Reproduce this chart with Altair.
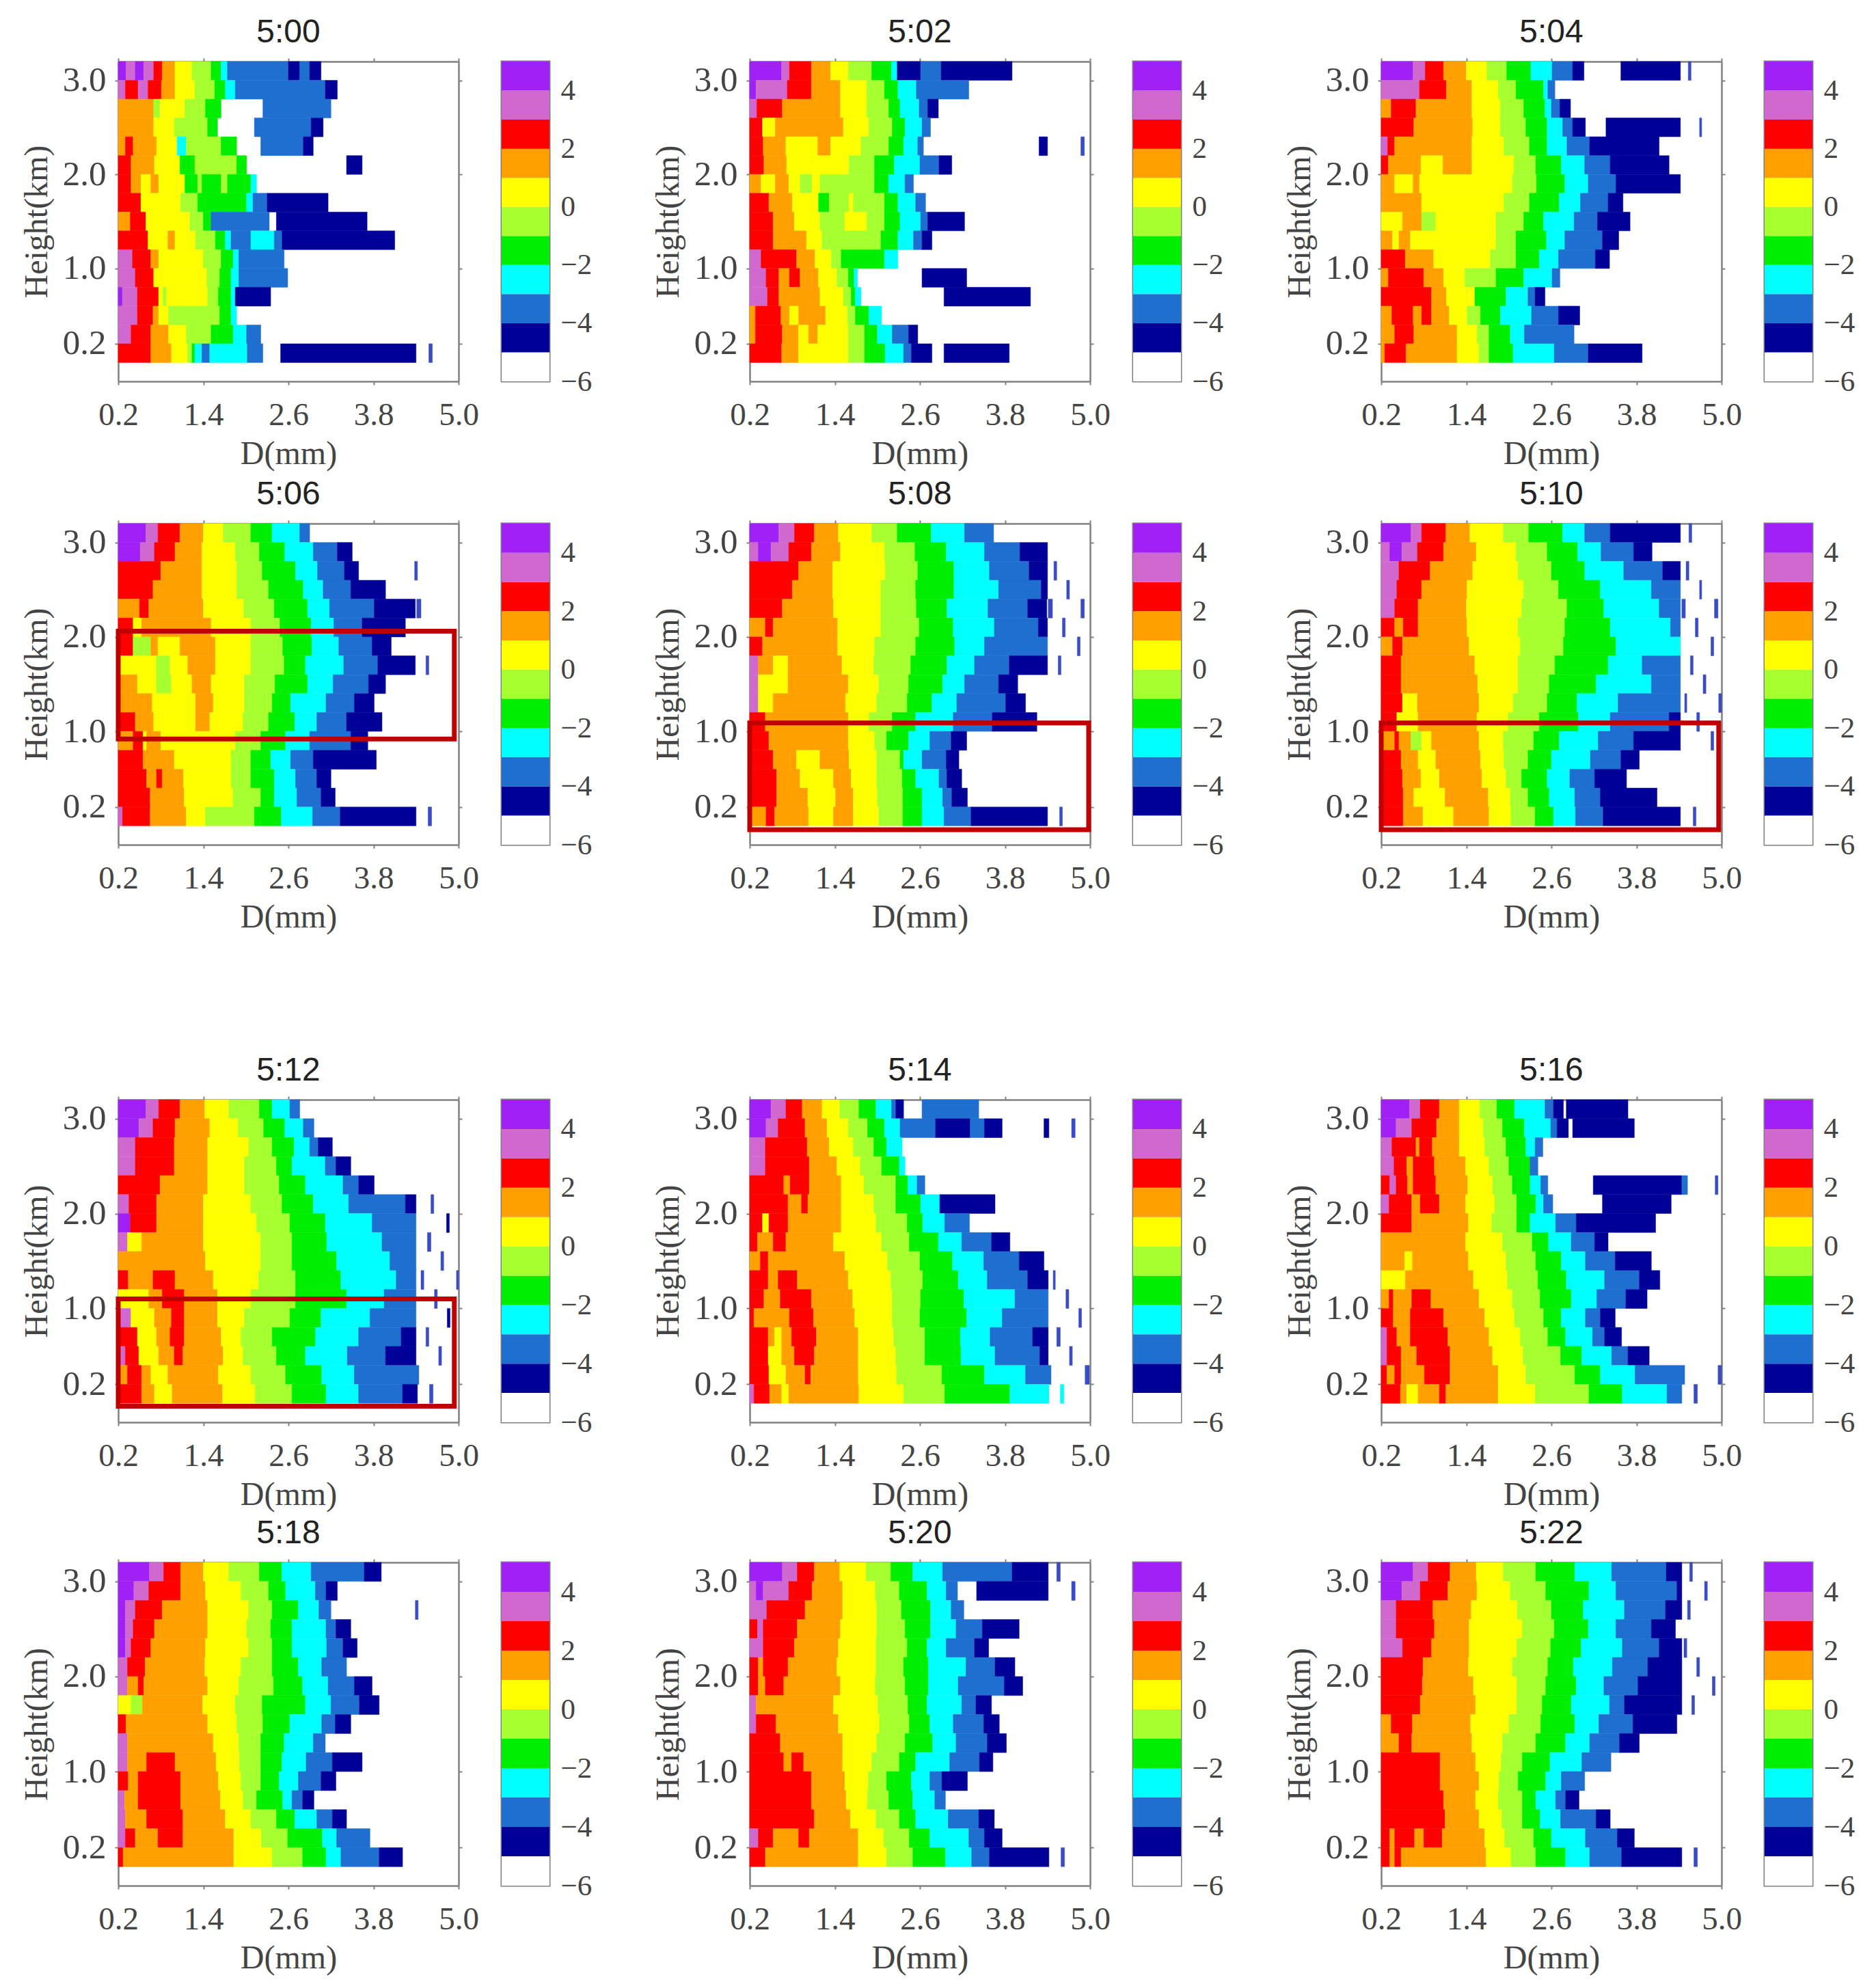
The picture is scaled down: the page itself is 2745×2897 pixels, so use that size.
import altair as alt
import pandas as pd

# Each row (top = 3.0-3.2 km, down to 0.0-0.2 km): class letter + upper edge of D in 0.01 mm; starts at 0.2 mm.
P500 = ["V31 P44 V56 P70 R82 O100 Y124 L151 G165 C174 B260 N276 B290 N306",
"P30 R48 P62 R81 O100 Y128 L156 G171 C185 B312 N329",
"O70 L79 Y114 L143 G165 W224 B320",
"O70 Y99 L146 G160 W212 B292 N309",
"O30 R41 O74 Y103 C116 L165 G187 W221 B281 N295",
"R38 O71 Y107 G128 L187 G201 W342 N364",
"R38 O52 Y66 O77 Y114 G132 L138 G165 L174 G207 C215",
"R52 Y108 L132 G201 C210 B230 N316",
"O37 R59 Y121 L140 G151 B233 W243 N371",
"R62 Y90 O100 Y129 L157 G171 C179 B207 C240 B251 N410",
"P40 R66 O77 Y140 L165 G182 C190 B254",
"P44 R70 Y145 L163 G179 C190 B259",
"V26 P47 R77 Y83 L88 Y146 L161 G179 C185 N235",
"P47 R69 O77 Y91 L163 G179 C187",
"P38 R66 O91 Y116 L151 G182 C201 B221",
"R66 O95 Y118 L124 G128 C138 B149 C202 B224 W249 N440 W458 B463"]
P502 = ["V65 P76 R107 O134 Y159 L192 G220 C228 N261 B290 N390",
"V29 P73 R107 O148 Y185 L210 G229 C255 B329",
"P30 R66 O148 Y185 L216 G232 C259 B271 N286",
"R38 Y56 O152 Y188 L221 G239 C263 B275",
"R39 O71 Y116 O134 Y177 L216 G237 C257 B265 W428 N440 W487 B492",
"R40 O72 Y160 L196 G224 C260 B287 N305",
"O36 Y56 O75 Y91 L108 Y119 L196 G216 C239 B251",
"R47 O80 Y117 G132 L160 Y166 L210 G229 C254 B268",
"R53 O83 Y119 L154 Y185 L210 G232 C261 B271 N323",
"R53 O100 Y122 L205 G229 C251 B263 N277",
"P36 R86 O112 Y135 L149 G210 C229",
"P43 R61 O76 R91 O117 Y143 L159 G167 C172 W263 N326",
"P45 R61 O119 Y152 L163 G169 C177 W294 N416",
"O28 R64 O76 Y89 O127 Y158 L169 G188 C206",
"O28 R66 O89 Y103 O116 Y159 L182 G200 C221 B244 N257",
"R65 O89 Y159 L182 G211 C237 B248 N277 W294 N386"]
P504 = ["V65 P82 R108 O140 Y169 L197 G231 C261 B290 N306 W358 N442 W453 B457",
"P74 R112 O148 Y185 L210 G249 C255 B265",
"O34 R69 O148 Y188 L221 G251 C260 B272 N287",
"R66 O149 Y188 L224 G254 C276 B290 N308 W337 N442 W469 B472",
"P29 R39 O148 Y193 L229 G254 C282 B314 N412",
"R30 O76 Y107 O148 Y207 L238 G274 C307 B343 N426",
"O39 Y65 O74 Y205 L239 G279 C312 B351 N442",
"O77 Y193 L229 G271 C301 B340 N361",
"Y50 O77 L97 Y182 L221 G249 C292 B325 N371",
"O36 Y45 O61 Y182 L210 G253 C279 B332 N355",
"R54 O94 Y174 L210 G243 C270 B322 N342",
"O30 R80 O108 Y138 L182 G221 C261 B272",
"R91 O112 Y152 G196 C227 B237 N251",
"O35 R65 O77 R91 O116 Y141 L160 G188 C232 B270 N300",
"O39 R66 O127 Y155 L172 G202 C222 B292",
"O25 R55 O127 Y158 L172 G206 C264 B312 N388"]
P506 = ["V59 P76 R107 O140 Y168 L207 G237 C276 B290",
"V51 P71 R100 O138 Y185 L219 G255 C295 B329 N350",
"R80 O138 Y187 L223 G270 C301 B339 N359 W438 B442",
"R69 O138 Y187 L232 G281 C309 B348 N397",
"O50 R63 O140 Y197 L240 G287 C318 B381 N439 W441 B447",
"R41 Y53 O151 Y207 L248 G292 C324 B364 N425",
"R41 L66 O76 Y107 O157 Y207 L252 G293 C331 B378 N405",
"Y74 L93 Y118 O157 Y207 L254 G284 C338 B386 N439 W454 B458",
"O47 Y74 L95 Y124 O151 Y198 L241 G287 C323 B373 N397",
"O68 Y129 O154 Y198 L237 G263 C313 B353 N381",
"R44 O70 Y129 O149 Y196 L232 G269 C300 B342 N392",
"O41 R55 Y60 O80 Y185 L221 G256 C290 B348 N372",
"R55 O99 Y179 L207 G235 C263 B295 N384",
"R60 O74 R82 O112 Y179 L207 G240 C270 B300 N320",
"R65 O113 Y182 L221 G240 C272 B306 N326",
"P26 R65 O116 Y143 L212 G250 C294 B333 N440 W457 B462"]
P508 = ["V61 P83 R111 O145 Y192 L228 G276 C323 B364",
"P32 V50 P75 R107 O148 Y210 L253 G297 C351 B401 N440",
"R89 O137 Y211 L257 G308 C358 B414 N440 W449 B453",
"R80 O137 Y205 L254 G308 C371 B431 N440 W467 B471",
"R66 O138 Y205 L255 G298 C356 B412 N439 W441 B447 W487 B492",
"O42 R53 O144 Y205 L259 G307 C365 B427 N440 W461 B465",
"R38 O144 Y196 L254 G309 C351 B440 W482 B486",
"P32 O53 Y74 O150 Y195 L247 G298 C337 B386 N440 W455 B459",
"P32 Y74 O159 Y202 L244 G292 C323 B371 N398",
"P32 Y53 O155 Y199 L242 G277 C312 B381 N409",
"R42 O159 Y188 L221 G254 C307 B362 N425",
"R47 O159 Y196 L213 G244 C274 B304 N326",
"R53 O86 Y119 O160 Y199 L232 G237 C263 B297 N315",
"R58 O91 Y138 O163 Y199 L235 G254 C287 B298 N319",
"R58 O102 Y141 O166 Y200 L236 G263 C292 B305 N327",
"O43 R55 O103 Y138 O166 Y202 L236 G263 C294 B332 N440 W457 B461"]
P510 = ["V62 P77 R111 O145 Y192 L228 G276 C307 B343 N442 W454 B458",
"P32 V49 P71 R108 O154 Y210 L254 G297 C330 B376 N402",
"P45 R89 O149 Y213 L260 G307 C362 B417 N442 W450 B454",
"P42 R77 O141 Y221 L270 G329 C401 B442 W469 B472",
"P39 R72 O140 Y218 L282 G334 C412 B442 W444 B449 W490 B495",
"R39 O51 R72 O141 Y213 L279 G343 C428 B442 W463 B467",
"O36 R50 O144 Y216 L277 G351 C442 W485 B489",
"R48 O152 Y213 L265 G340 C388 B442 W456 B460",
"R48 O156 Y213 L257 G323 C401 B442 W474 B478",
"R50 Y71 O158 Y206 L254 G296 C354 B442 W448 B451 W496 B500",
"R42 Y72 O155 Y199 L243 G298 C343 B426 N442 W465 B469",
"O39 R45 O62 L77 Y91 O158 Y192 L235 G271 C326 B376 N442 W485 B489",
"R48 O72 Y97 O160 Y193 L227 G260 C315 B358 N384",
"R50 O76 Y102 O162 Y196 L218 G254 C286 B321 N366",
"R51 O66 Y110 O171 Y202 L227 G257 C293 B329 N409",
"R51 O79 Y122 O172 Y203 L237 G263 C294 B333 N442 W460 B464"]
P512 = ["V59 P77 R107 O142 Y176 L219 G237 C262 B276",
"V49 P69 R100 O149 Y189 L225 G255 C281 B296",
"P44 R99 O146 Y204 L237 G268 C290 B302 N322",
"P44 R99 O146 Y198 L243 G265 C312 B327 N348",
"R79 O146 Y198 L247 G284 C337 B359 N381",
"P35 R74 O140 Y207 L251 G295 C345 B425 N440 W461 B465",
"V37 R74 O140 Y215 L262 G312 C378 B440 W483 N487",
"P33 Y53 O140 Y221 L265 G314 C392 B440 W456 B461",
"O143 Y221 L265 G328 C403 B440 W475 B479",
"R34 O69 R100 O154 Y218 L270 G334 C412 B440 W447 B451 W497 B500",
"Y63 O82 R113 O160 Y207 L270 G342 C395 B440 W466 B470",
"P38 Y71 O95 R113 O160 Y198 L262 G306 C375 B440 W484 N488",
"R47 Y74 O93 R113 O165 Y193 L237 G298 C359 B419 N440 W454 B458",
"P30 R49 Y77 O99 R111 O168 Y196 L243 G284 C343 B397 N440 W472 B476",
"O33 R53 O66 Y90 O161 Y207 L256 G307 C353 B444",
"R53 O71 Y96 O167 Y213 L265 G313 C359 B421 N442 W459 B464"]
P514 = ["V50 P71 R94 O122 Y147 L174 G198 C220 B226 N237 W263 B343",
"V43 P60 R98 O129 Y159 L186 G210 C232 B282 N331 B351 N376 W435 N442 W474 B479",
"P42 R101 O132 Y166 L195 G213 C235",
"P42 R104 O143 Y176 L206 G231 C239",
"R68 O77 R104 O149 Y181 L226 G243 C256 B267",
"R74 O93 R102 O149 Y195 L226 G261 C288 N366",
"R38 Y47 R74 O149 Y198 L242 G264 C295 B330",
"R31 O53 R71 O138 Y206 L245 G286 C319 B361 N387",
"O35 R46 O154 Y214 L260 G306 C350 B400 N435",
"R46 O60 R87 O159 Y219 L264 G314 C355 B412 N441 W448 B451",
"R40 O63 R107 O165 Y221 L261 G322 C394 B441 W466 B470",
"R26 O76 R110 O168 Y221 L260 G326 C376 B441 W484 B488",
"R46 O55 Y65 O79 R114 O173 Y223 L267 G317 C359 B419 N441 W453 B458",
"R46 Y65 O83 R111 O173 Y226 L267 G318 C366 B429 N441 W471 B475",
"R47 Y71 O98 R106 O173 Y227 L291 G351 C409 B445 W493 B499",
"P26 R48 O65 Y75 O174 Y237 L295 G387 C442 W458 C463"]
P516 = ["V60 P75 R102 O130 Y159 L183 G208 C251 B263 N277 W281 N368",
"V41 P63 R98 O130 Y164 L191 G222 C259 B268 N284 W290 N377",
"P35 R69 O74 R92 O130 Y166 L196 G224 C237 B248",
"P38 R56 O65 R95 O139 Y172 L200 G230 B241",
"R32 P41 R57 O65 R97 O142 Y177 L205 G230 C245 B255 W319 N444 B452 W491 B495",
"P31 R63 O75 R102 O139 Y180 L211 G238 C249 B262 W332 N429",
"R63 O143 Y176 L211 G230 C266 B295 N407",
"O139 Y191 L233 G256 C288 B321 N340",
"O53 Y64 O143 Y196 L238 G274 C308 B350 N401",
"Y54 O150 Y198 L241 G281 C335 B384 N413",
"O31 R37 O63 R90 O158 Y205 L244 G288 C324 B365 N395",
"R37 O61 R108 O166 Y208 L249 G274 C308 B329 N350",
"P28 R42 O61 R114 O172 Y216 L255 G280 C318 B335 N359",
"P28 R48 O70 R117 O177 Y220 L273 G303 C345 B368 N398",
"R28 O39 R48 O81 R117 O185 Y224 L293 G329 C378 B448 W495 B500",
"R47 O56 Y72 O102 R111 O185 Y237 L313 G360 C423 B444 W461 B466"]
P518 = ["V64 P84 R108 O140 Y176 L219 G251 C292 B367 N391",
"V42 P63 R108 O143 Y193 L232 G256 C298 B313 N329",
"V30 P44 R82 O146 Y204 L237 G274 C303 B320 W439 B443",
"V30 P41 R71 O146 Y201 L235 G265 C313 B327 N348",
"V30 P38 R66 O143 Y204 L237 G265 C314 B337 N357",
"P33 R58 O142 Y193 L237 G274 C307 B342",
"P33 O48 R56 O146 Y190 L239 G280 C316 B353 N378",
"Y38 L54 O139 Y185 L223 G284 C320 B360 N388",
"R31 O146 Y187 L224 G262 C307 B326 N348",
"P33 O154 Y190 L221 G254 C295 B312",
"P33 O60 R100 O158 Y191 L221 G251 C285 B322 N364",
"R34 O48 R108 O161 Y193 L221 G247 C274 B306 N327",
"P29 O48 R108 O164 Y196 L215 G252 C265 B280 N296",
"P30 O60 R111 O171 Y207 L243 G269 C300 B322 N342",
"P30 R44 O76 R111 O183 Y222 L259 G308 C328 B375",
"R27 O183 Y237 L280 G313 C334 B388 N421"]
P520 = ["V66 P87 R111 O147 Y184 L219 G250 C292 B390 N441 W453 B458",
"P29 V39 P75 R108 O151 Y197 L231 G270 C297 B313 W340 N441 W474 B479",
"P44 R98 O151 Y199 L234 G275 C304 B322",
"R31 P39 R87 O148 Y199 L239 G275 C311 B348 N400",
"P39 R83 O145 Y198 L242 G270 C297 B337 N357",
"R32 O39 R74 O143 Y198 L237 G272 C325 B366 N394",
"R32 O42 R68 O148 Y197 L239 G272 C314 B379 N405",
"P29 O138 Y201 L243 G270 C319 B339 N361",
"P29 R57 O145 Y203 L245 G274 C307 B350 N372",
"R63 O151 Y199 L239 G278 C311 B355 N382",
"R68 O79 R96 O151 Y192 L231 G254 C302 B344 N363",
"R107 O154 Y187 L213 G248 C274 B291 N327",
"R107 O156 Y186 L216 G250 C281 B296",
"R111 O162 Y198 L231 G254 C300 B343 N365",
"P32 R53 O89 R104 O173 Y209 L245 G274 C329 B351 N376",
"R42 O173 Y213 L250 G296 C333 B358 N442 W459 B464"]
P522 = ["V65 P86 R117 O154 Y192 L238 G293 C345 B422 N444 W455 B459",
"V49 P75 R114 O155 Y202 L252 G313 C351 B437 N444 W476 B480",
"P41 R93 O147 Y212 L260 G305 C363 B421 N444 W452 B456",
"P41 R95 O144 Y219 L264 G312 C351 B401 N435",
"P50 R91 O144 Y211 L259 G302 C360 B412 N444 W447 B451",
"R79 O143 Y205 L255 G291 C346 B396 N444 W465 B469",
"R78 O150 Y211 L252 G295 C334 B382 N444 W487 B491",
"R75 O153 Y211 L247 G288 C342 B363 N444 W458 B462",
"O34 R64 O146 Y200 L245 G293 C327 B375 N437",
"O45 R63 O148 Y191 L238 G280 C314 B356 N384",
"R103 O153 Y189 L219 G258 C303 B344",
"R103 O158 Y186 L213 G252 C274 B307",
"R108 O153 Y185 L219 G238 C266 B280 N299",
"R110 O158 Y190 L219 G244 C273 B323 N343",
"R32 O39 R67 O80 R106 O166 Y194 L235 G260 C308 B353 N377",
"R32 O39 R48 O168 Y203 L238 G280 C314 B359 N444 W461 B466"]

PANELS = [P500, P502, P504, P506, P508, P510, P512, P514, P516, P518, P520, P522]
TITLES = ["5:00", "5:02", "5:04", "5:06", "5:08", "5:10", "5:12", "5:14", "5:16", "5:18", "5:20", "5:22"]

# Red highlight boxes: panel title -> D from, D to, height from, height to
BOXES = {"5:06": (0.2, 4.94, 0.92, 2.06),
         "5:08": (0.2, 4.98, -0.04, 1.09),
         "5:10": (0.2, 4.96, -0.04, 1.09),
         "5:12": (0.2, 4.94, -0.03, 1.10)}

CLASSES = ["W", "N", "B", "C", "G", "L", "Y", "O", "R", "P", "V", "D"]
COLORS = ["#ffffff", "#000098", "#1e6fd0", "#00ffff", "#00ee00", "#a6ff2e",
          "#ffff00", "#ffa000", "#ff0000", "#d068d0", "#a020f5", "#3a4cc4"]
BAR_CLASSES = ["W", "N", "B", "C", "G", "L", "Y", "O", "R", "P", "V"]
BAR_LOW = [-6, -5, -4, -3, -2, -1, 0, 1, 2, 3, 4]
BAR_HIGH = [-5, -4, -3, -2, -1, 0, 1, 2, 3, 4, 5]

X_TICKS = [0.2, 1.4, 2.6, 3.8, 5.0]
Y_TICKS = [0.2, 1.0, 2.0, 3.0]
BAR_TICKS = [-6, -4, -2, 0, 2, 4]

ROW_H = [468, 470, 472, 473]
GAP_H = [188, 353, 185]
W_HEAT, W_BAR, W_GAP = 498, 70, 167
SERIF = "Liberation Serif"
TXT = "#444444"
FRAME = "#808080"

color = alt.Color("c:N", scale=alt.Scale(domain=CLASSES, range=COLORS), legend=None)
stroke = alt.Stroke("c:N", scale=alt.Scale(domain=CLASSES, range=COLORS), legend=None)
xs = alt.Scale(domain=[0.2, 5.0], nice=False, zero=False)
ys = alt.Scale(domain=[-0.2, 3.2], nice=False, zero=False)


def records(rows):
    out = []
    for i, row in enumerate(rows):
        left = 0.2
        prev = ""
        for tok in row.split():
            right = int(tok[1:]) / 100
            c = tok[0]
            if c == "B" and prev == "W" and right - left < 0.1:
                c = "D"  # isolated thin streaks beyond the main body
            if c != "W":
                out.append({"c": c, "x": left, "x2": right,
                            "y": 3.2 - 0.2 * (i + 1), "y2": 3.2 - 0.2 * i})
            left = right
            prev = tok[0]
    return pd.DataFrame(out)


def frame_axis(orient):
    return alt.Axis(orient=orient, labels=False, title=None, grid=False, values=X_TICKS if orient == "top" else Y_TICKS,
                    tickSize=5, tickWidth=2, tickColor=FRAME, domainColor=FRAME, domainWidth=2.5)


def heat(rows, name, h):
    base = alt.Chart(records(rows))
    rect = base.mark_rect(strokeWidth=0.5).encode(
        x=alt.X("x:Q", scale=xs, axis=alt.Axis(
            values=X_TICKS, format=".1f", grid=False, labelFont=SERIF, labelFontSize=47, labelColor=TXT,
            labelPadding=21, labelFlush=False, labelOverlap=False, title="D(mm)", titleFont=SERIF, titleFontSize=48,
            titleFontWeight="normal", titleColor=TXT, titlePadding=10, tickSize=5, tickWidth=2, tickColor=FRAME,
            domainColor=FRAME, domainWidth=2.5)),
        x2="x2:Q",
        y=alt.Y("y:Q", scale=ys, axis=alt.Axis(
            values=Y_TICKS, format=".1f", grid=False, labelFont=SERIF, labelFontSize=51, labelColor=TXT,
            labelPadding=13, labelFlush=False, labelOverlap=False, title="Height(km)", titleFont=SERIF, titleFontSize=48,
            titleFontWeight="normal", titleColor=TXT, titlePadding=13, tickSize=5, tickWidth=2, tickColor=FRAME,
            domainColor=FRAME, domainWidth=2.5)),
        y2="y2:Q", color=color, stroke=stroke)
    mirror = alt.Chart(pd.DataFrame({"x": [0.2], "y": [0.0]})).mark_point(opacity=0).encode(
        x=alt.X("x:Q", scale=xs, axis=frame_axis("top")),
        y=alt.Y("y:Q", scale=ys, axis=frame_axis("right")))
    layers = [rect, mirror]
    if name in BOXES:
        b = BOXES[name]
        layers.append(alt.Chart(pd.DataFrame({"x": [b[0]], "x2": [b[1]], "y": [b[2]], "y2": [b[3]]}))
                      .mark_rect(fill=None, stroke="#c00000", strokeWidth=7)
                      .encode(x=alt.X("x:Q", scale=xs, axis=None), x2="x2:Q",
                              y=alt.Y("y:Q", scale=ys, axis=None), y2="y2:Q"))
    return alt.layer(*layers).resolve_axis(x="independent", y="independent").properties(
        width=W_HEAT, height=h,
        title=alt.TitleParams(name, font="Liberation Sans", fontSize=48, fontWeight="normal", color="#222222", offset=12))


def colorbar(h):
    df = pd.DataFrame({"c": BAR_CLASSES, "y": BAR_LOW, "y2": BAR_HIGH})
    return alt.Chart(df).mark_rect().encode(
        x=alt.value(0), x2=alt.value(W_BAR),
        y=alt.Y("y:Q", scale=alt.Scale(domain=[-6, 5], nice=False, zero=False), axis=alt.Axis(
            orient="right", values=BAR_TICKS, grid=False, labelFont=SERIF, labelFontSize=43, labelColor=TXT,
            labelPadding=16, labelFlush=False, labelOverlap=False, title=None, tickSize=0, domain=False)),
        y2="y2:Q", color=color).properties(
        width=W_BAR, height=h, view=alt.ViewBackground(stroke=FRAME, strokeWidth=3))


def filler(w, h):
    return alt.Chart(pd.DataFrame({"a": [0]})).mark_point(opacity=0).encode(
        x=alt.value(0), y=alt.value(0)).properties(width=w, height=h)


cells = []
for r in range(4):
    h = ROW_H[r]
    for c in range(3):
        k = r * 3 + c
        cells.append(heat(PANELS[k], TITLES[k], h))
        cells.append(colorbar(h))
        if c < 2:
            cells.append(filler(W_GAP, h))
    if r < 3:
        cells.extend(filler(1, GAP_H[r]) for _ in range(8))

chart = alt.concat(*cells, columns=8, bounds="flush",
                   spacing=alt.RowColnumber(column=63, row=10)).properties(
    padding={"left": 22, "top": 16, "right": 5, "bottom": 5}).configure_view(strokeWidth=0)

chart.save("out.html", embed_options={"renderer": "svg", "actions": False})
